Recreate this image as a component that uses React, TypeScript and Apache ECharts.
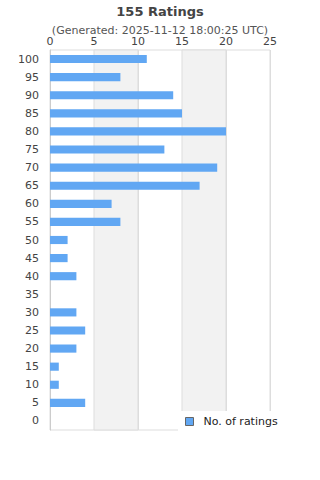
import React, { useEffect, useRef } from "react";
import * as echarts from "echarts";

const categories = ["0","5","10","15","20","25","30","35","40","45","50","55","60","65","70","75","80","85","90","95","100"];
const ratings = [0,4,1,1,3,4,3,0,3,2,2,8,7,17,19,13,20,15,14,8,11];
const xTicks = { min: 0, max: 25, interval: 5 };
const shadedBands = [[5, 10], [15, 20]];
const titleText = "155 Ratings";
const subtitleText = "(Generated: 2025-11-12 18:00:25 UTC)";
const seriesName = "No. of ratings";

export default function App() {
  const ref = useRef<HTMLDivElement>(null);
  useEffect(() => {
    document.body.style.margin = "0";
    const chart = echarts.init(ref.current!, null, { renderer: "svg" });
    const font = "DejaVu Sans";
    chart.setOption({
      animation: false,
      textStyle: { fontFamily: font },
      title: {
        text: titleText,
        subtext: subtitleText,
        left: "center",
        top: 0,
        itemGap: 7,
        textStyle: { fontFamily: font, fontSize: 13, fontWeight: "bold", color: "#444" },
        subtextStyle: { fontFamily: font, fontSize: 11, color: "#555" },
      },
      grid: {
        left: 50, right: 50, top: 50, bottom: 50,
        show: true, borderColor: "#ddd", borderWidth: 1, backgroundColor: "transparent",
      },
      legend: {
        data: [{ name: seriesName, itemStyle: { color: "#61a7f3", borderColor: "#666", borderWidth: 1 } }],
        left: 178, top: 411,
        padding: [5, 10, 5, 7],
        backgroundColor: "#fff",
        icon: "rect",
        itemWidth: 8, itemHeight: 8, itemGap: 10,
        textStyle: { fontFamily: font, fontSize: 11, color: "#222", padding: [0, 0, 0, 5] },
      },
      xAxis: {
        type: "value",
        position: "top",
        min: xTicks.min, max: xTicks.max, interval: xTicks.interval,
        axisLine: { show: false },
        axisTick: { show: false },
        axisLabel: { fontFamily: font, fontSize: 11, color: "#444", margin: 3 },
        splitLine: { show: true, lineStyle: { color: "#ddd", width: 1 } },
        splitArea: { show: false },
      },
      yAxis: {
        type: "category",
        data: categories,
        axisLine: { show: true, lineStyle: { color: "#ccc" } },
        axisTick: { show: false },
        axisLabel: { fontFamily: font, fontSize: 11, color: "#444", margin: 11 },
      },
      series: [
        {
          name: "bands",
          type: "bar",
          z: 1,
          silent: true,
          data: categories.map(() => null),
          markArea: {
            silent: true,
            itemStyle: { color: "#f2f2f2", borderColor: "#ddd", borderWidth: 1 },
            data: shadedBands.map(([a, b]) => [{ xAxis: a }, { xAxis: b }]),
          },
        },
        {
          name: seriesName,
          type: "bar",
          z: 3,
          data: ratings,
          barWidth: "45%",
          barGap: "-100%",
          itemStyle: { color: "#61a7f3" },
        },
      ],
    });
    return () => chart.dispose();
  }, []);
  return <div ref={ref} style={{ width: 320, height: 480 }} />;
}
